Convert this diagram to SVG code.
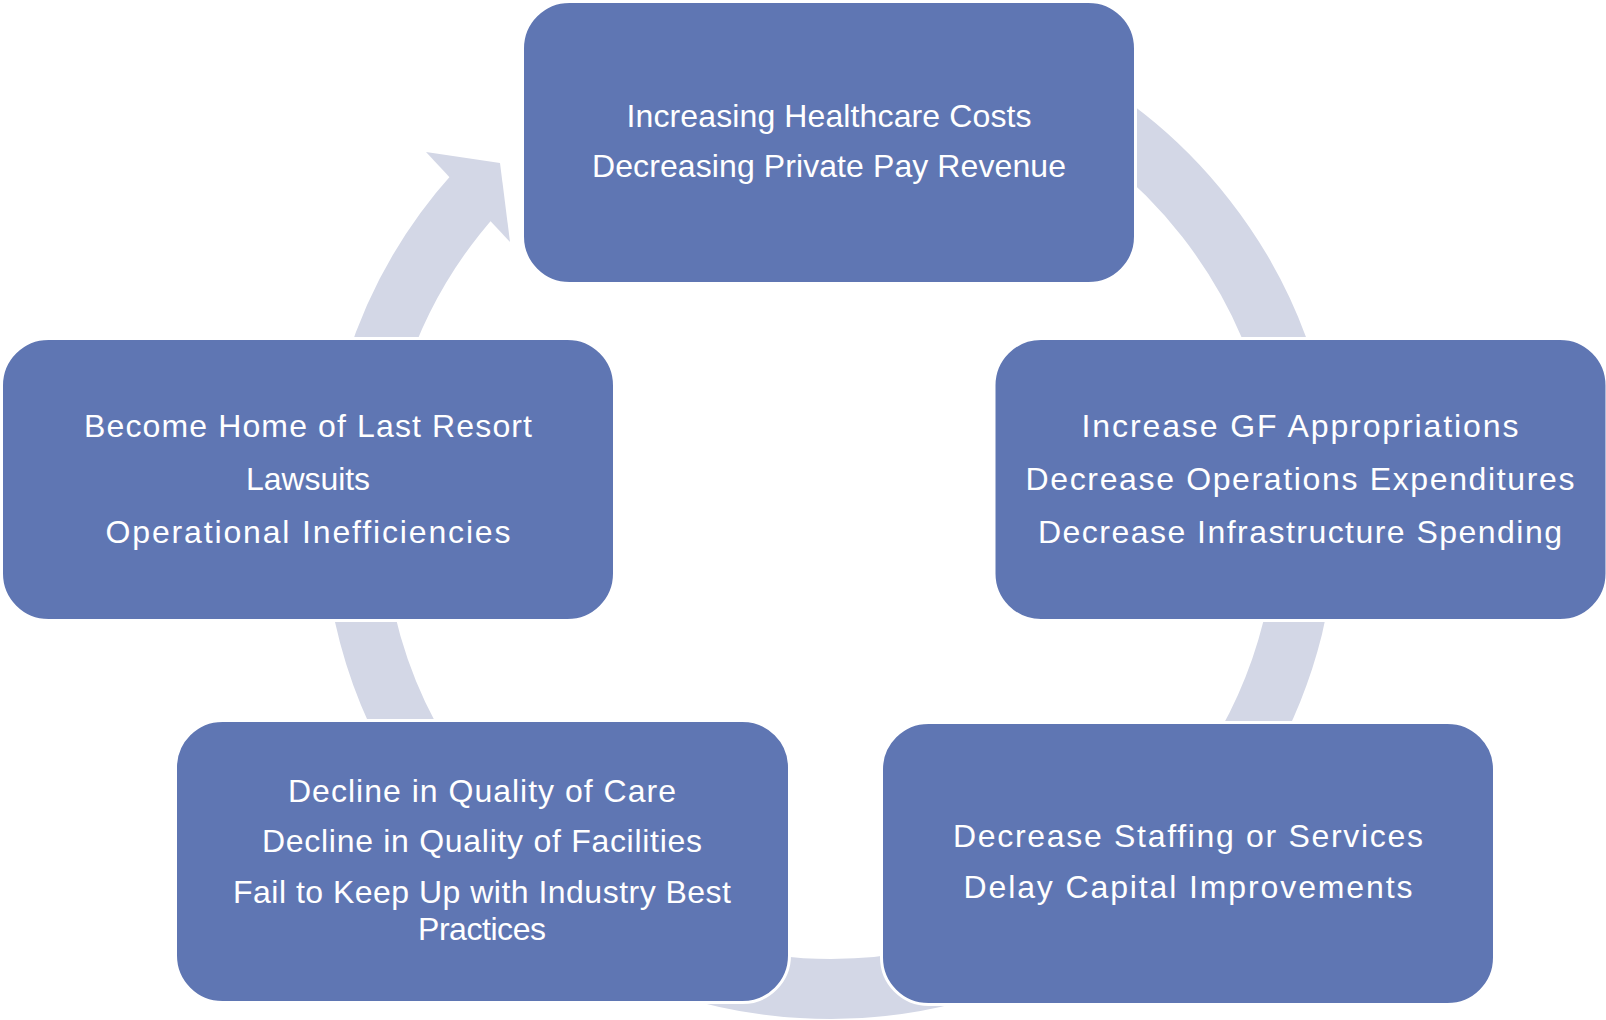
<svg xmlns="http://www.w3.org/2000/svg" width="1606" height="1020" viewBox="0 0 1606 1020">
  <style>
    .box { fill: #5F76B3; stroke: #FFFFFF; stroke-width: 3; }
    .lbl { font-family: "Liberation Sans", Arial, sans-serif; font-size: 32px; fill: #FFFFFF; text-anchor: middle; }
    .ring { fill: none; stroke: #D3D7E6; stroke-width: 60; stroke-linecap: butt; }
    .head { fill: #D3D7E6; stroke: none; }
  </style>
  <rect width="1606" height="1020" fill="#FFFFFF"/>
  <g id="connectors">
    <path class="ring" d="M 830 35 A 477 477 0 1 1 475.5 192.8"/>
    <polygon class="head" points="426,152 500,163 510,242"/>
  </g>
  <g id="node-top">
    <rect class="box" x="522.5" y="1.5" width="613" height="282" rx="47" ry="47"/>
    <text class="lbl" x="829" y="127" textLength="405">Increasing Healthcare Costs</text>
    <text class="lbl" x="829" y="177" textLength="474">Decreasing Private Pay Revenue</text>
  </g>
  <g id="node-right">
    <rect class="box" x="994" y="338.5" width="613" height="282" rx="47" ry="47"/>
    <text class="lbl" x="1300" y="437" textLength="437">Increase GF Appropriations</text>
    <text class="lbl" x="1300" y="490" textLength="549">Decrease Operations Expenditures</text>
    <text class="lbl" x="1300" y="543" textLength="524">Decrease Infrastructure Spending</text>
  </g>
  <g id="node-bottom-right">
    <rect class="box" x="881.5" y="722.5" width="613" height="282" rx="47" ry="47"/>
    <text class="lbl" x="1188" y="847" textLength="470">Decrease Staffing or Services</text>
    <text class="lbl" x="1188" y="898" textLength="449">Delay Capital Improvements</text>
  </g>
  <g id="node-bottom-left">
    <rect class="box" x="175.5" y="720.5" width="614" height="282" rx="47" ry="47"/>
    <text class="lbl" x="482" y="802" textLength="388">Decline in Quality of Care</text>
    <text class="lbl" x="482" y="852" textLength="440">Decline in Quality of Facilities</text>
    <text class="lbl" x="482" y="903" textLength="498">Fail to Keep Up with Industry Best</text>
    <text class="lbl" x="482" y="940" textLength="128">Practices</text>
  </g>
  <g id="node-left">
    <rect class="box" x="1.5" y="338.5" width="613" height="282" rx="47" ry="47"/>
    <text class="lbl" x="308" y="437" textLength="448">Become Home of Last Resort</text>
    <text class="lbl" x="308" y="490" textLength="124">Lawsuits</text>
    <text class="lbl" x="308" y="543" textLength="405">Operational Inefficiencies</text>
  </g>
</svg>
